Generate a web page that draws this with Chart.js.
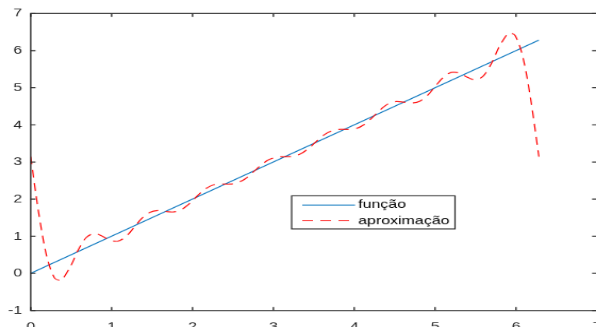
<!DOCTYPE html>
<html>
<head>
<meta charset="utf-8">
<script src="https://cdn.jsdelivr.net/npm/chart.js@4.4.1/dist/chart.umd.min.js"></script>
<style>
html, body { margin: 0; padding: 0; overflow: hidden; background: #fff; }
/* figure is laid out at 564x420 and squeezed into the 596x327 window */
#wrap { width: 564px; height: 420px; transform: scale(1.06429, 0.77857); transform-origin: 0 0; }
</style>
</head>
<body>
<div id="wrap"><canvas id="plot" width="564" height="420"></canvas></div>
<script>
// f(x) = x on [0, 2pi]
var funcX = [0, 6.283];
var funcY = [0, 6.283];

// 8-term Fourier approximation, sampled along [0, 2pi]
var approxX = [0.000, 0.098, 0.196, 0.295, 0.370, 0.393, 0.491, 0.589, 0.687, 0.785,
               0.884, 0.982, 1.080, 1.178, 1.276, 1.374, 1.473, 1.571, 1.669, 1.767,
               1.865, 1.963, 2.062, 2.160, 2.258, 2.356, 2.454, 2.553, 2.651, 2.749,
               2.847, 2.945, 3.043, 3.142, 3.240, 3.338, 3.436, 3.534, 3.632, 3.731,
               3.829, 3.927, 4.025, 4.123, 4.222, 4.320, 4.418, 4.516, 4.614, 4.712,
               4.811, 4.909, 5.007, 5.105, 5.203, 5.301, 5.400, 5.498, 5.596, 5.694,
               5.792, 5.890, 5.913, 5.989, 6.087, 6.185, 6.283];
var approxY = [3.142, 1.634, 0.474, -0.126, -0.196, -0.161, 0.183, 0.636, 0.967, 1.074,
               1.003, 0.889, 0.868, 0.995, 1.233, 1.481, 1.645, 1.694, 1.669, 1.655,
               1.721, 1.881, 2.090, 2.275, 2.381, 2.408, 2.404, 2.436, 2.546, 2.724,
               2.917, 3.062, 3.131, 3.142, 3.153, 3.221, 3.366, 3.559, 3.737, 3.847,
               3.880, 3.876, 3.902, 4.008, 4.193, 4.402, 4.563, 4.628, 4.614, 4.589,
               4.638, 4.802, 5.050, 5.288, 5.416, 5.394, 5.280, 5.209, 5.316, 5.647,
               6.100, 6.445, 6.479, 6.409, 5.809, 4.649, 3.142];

var seriesNames = ['função', 'aproximação'];
var xRange = [0, 7];
var yRange = [-1, 7];

var FONT = 'Liberation Sans, Arial, Helvetica, sans-serif';
var AXIS = '#262626';

function toPoints(xs, ys) {
    return xs.map(function (x, i) { return { x: x, y: ys[i] }; });
}

// closed box with inward tick marks on all four sides
var boxAxes = {
    id: 'boxAxes',
    afterDatasetsDraw: function (chart) {
        var ctx = chart.ctx, a = chart.chartArea;
        var xs = chart.scales.x, ys = chart.scales.y;
        var tl = 4.5;
        ctx.save();
        ctx.strokeStyle = AXIS;
        ctx.lineWidth = 1.3;
        ctx.strokeRect(a.left, a.top, a.right - a.left, a.bottom - a.top);
        ctx.beginPath();
        xs.ticks.forEach(function (t) {
            var px = xs.getPixelForValue(t.value);
            ctx.moveTo(px, a.bottom); ctx.lineTo(px, a.bottom - tl);
            ctx.moveTo(px, a.top); ctx.lineTo(px, a.top + tl);
        });
        ys.ticks.forEach(function (t) {
            var py = ys.getPixelForValue(t.value);
            ctx.moveTo(a.left, py); ctx.lineTo(a.left + tl, py);
            ctx.moveTo(a.right, py); ctx.lineTo(a.right - tl, py);
        });
        ctx.stroke();
        ctx.restore();
    }
};

// legend box inside the axes, lower middle
var boxLegend = {
    id: 'boxLegend',
    afterDraw: function (chart) {
        var ctx = chart.ctx;
        var bx = 274, by = 251.5, bw = 153.5, bh = 42.5;
        ctx.save();
        ctx.fillStyle = '#fff';
        ctx.fillRect(bx, by, bw, bh);
        ctx.strokeStyle = AXIS;
        ctx.lineWidth = 1.2;
        ctx.strokeRect(bx, by, bw, bh);
        ctx.font = '15px ' + FONT;
        ctx.textBaseline = 'middle';
        ctx.textAlign = 'left';
        chart.data.datasets.forEach(function (ds, i) {
            var y = 263.3 + i * 20.2;
            ctx.strokeStyle = ds.borderColor;
            ctx.lineWidth = ds.borderWidth;
            ctx.setLineDash(ds.borderDash || []);
            ctx.beginPath();
            ctx.moveTo(284, y);
            ctx.lineTo(333.6, y);
            ctx.stroke();
            ctx.setLineDash([]);
            ctx.fillStyle = '#000';
            ctx.fillText(ds.label, 336.5, y);
        });
        ctx.restore();
    }
};

new Chart(document.getElementById('plot'), {
    type: 'scatter',
    data: {
        datasets: [
            {
                label: seriesNames[0],
                data: toPoints(funcX, funcY),
                showLine: true,
                borderColor: '#0072BD',
                borderWidth: 1.2,
                pointRadius: 0,
                order: 1
            },
            {
                label: seriesNames[1],
                data: toPoints(approxX, approxY),
                showLine: true,
                borderColor: '#FF0000',
                borderWidth: 1.2,
                borderDash: [10, 7],
                tension: 0.3,
                pointRadius: 0,
                order: 0
            }
        ]
    },
    options: {
        responsive: false,
        animation: false,
        devicePixelRatio: 1,
        layout: { padding: { top: 17.3, right: 3.2, left: 0, bottom: 0 } },
        plugins: {
            legend: { display: false },
            tooltip: { enabled: false }
        },
        scales: {
            x: {
                type: 'linear',
                min: xRange[0],
                max: xRange[1],
                grid: { display: false, drawTicks: false },
                border: { display: false },
                ticks: { stepSize: 1, padding: 12.5, color: AXIS, font: { family: FONT, size: 15 } },
                afterFit: function (scale) {
                    scale.height = 21.2;
                    scale.paddingLeft = 0;
                    scale.paddingRight = 0;
                }
            },
            y: {
                min: yRange[0],
                max: yRange[1],
                grid: { display: false, drawTicks: false },
                border: { display: false },
                ticks: { stepSize: 1, padding: 8, color: AXIS, font: { family: FONT, size: 15 } },
                afterFit: function (scale) {
                    scale.width = 28.85;
                    scale.paddingTop = 0;
                    scale.paddingBottom = 0;
                }
            }
        }
    },
    plugins: [boxAxes, boxLegend]
});
</script>
</body>
</html>
